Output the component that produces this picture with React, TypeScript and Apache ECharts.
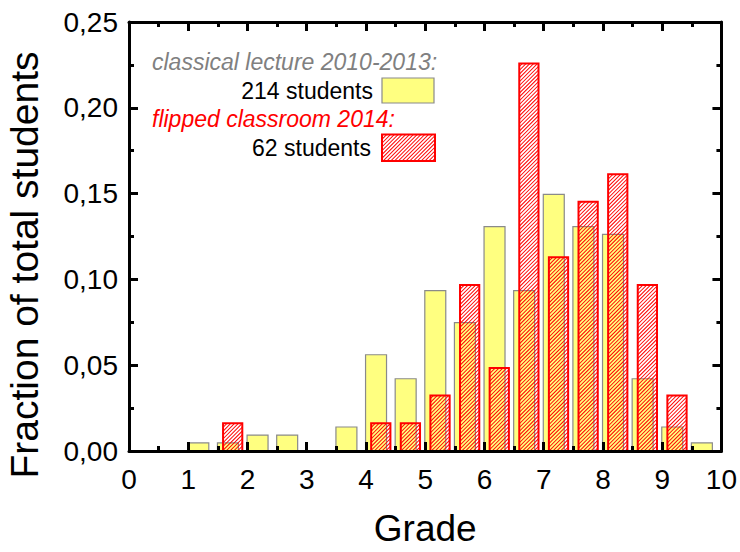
import React, { useEffect, useRef } from 'react';
import * as echarts from 'echarts';

// Bar centres (grade axis) and fraction of students
const classicalX = [1.17, 1.67, 2.17, 2.67, 3.67, 4.17, 4.67, 5.17, 5.67, 6.17, 6.67, 7.17, 7.67, 8.17, 8.67, 9.17, 9.67];
const classicalY = [0.0047, 0.0047, 0.0093, 0.0093, 0.014, 0.0561, 0.0421, 0.0935, 0.0748, 0.1308, 0.0935, 0.1495, 0.1308, 0.1262, 0.0421, 0.014, 0.0047];
const flippedX = [1.75, 4.25, 4.75, 5.25, 5.75, 6.25, 6.75, 7.25, 7.75, 8.25, 8.75, 9.25];
const flippedY = [0.0161, 0.0161, 0.0161, 0.0323, 0.0968, 0.0484, 0.2258, 0.1129, 0.1452, 0.1613, 0.0968, 0.0323];
const legendLabels = ['classical lecture 2010-2013:', '214 students', 'flipped classroom 2014:', '62 students'];
const axisTitles = { x: 'Grade', y: 'Fraction of total students' };

const FONT = '"Liberation Sans", Arial, Helvetica, sans-serif';
const YELLOW = '#ffff80';
const YELLOW_EDGE = '#8a8a8a';
const RED = '#ff0000';
const HATCH_STEP = 3.8;
const HATCH_THICK = 1.35; // in x+y units (about 1px perpendicular)

type Pt = [number, number];

function clipHalf(pts: Pt[], k: number, keepGreater: boolean): Pt[] {
  const out: Pt[] = [];
  const s = keepGreater ? 1 : -1;
  for (let i = 0; i < pts.length; i++) {
    const P = pts[i];
    const Q = pts[(i + 1) % pts.length];
    const fp = (P[0] + P[1] - k) * s;
    const fq = (Q[0] + Q[1] - k) * s;
    if (fp >= 0) out.push(P);
    if ((fp >= 0) !== (fq >= 0)) {
      const t = fp / (fp - fq);
      out.push([P[0] + t * (Q[0] - P[0]), P[1] + t * (Q[1] - P[1])]);
    }
  }
  return out;
}

function hatchStripes(x0: number, y0: number, x1: number, y1: number, step: number) {
  const out: any[] = [];
  const rect: Pt[] = [[x0, y0], [x1, y0], [x1, y1], [x0, y1]];
  const cStart = Math.floor((x0 + y0) / step) * step;
  for (let c = cStart; c <= x1 + y1; c += step) {
    let poly = clipHalf(rect, c, true);
    if (poly.length < 3) continue;
    poly = clipHalf(poly, c + HATCH_THICK, false);
    if (poly.length < 3) continue;
    out.push({
      type: 'polygon',
      silent: true,
      shape: { points: poly },
      style: { fill: RED, stroke: 'none' },
    });
  }
  return out;
}

const axisCommon = {
  axisLine: { show: true, onZero: false, lineStyle: { color: '#000', width: 3 } },
  axisTick: { show: true, inside: true, length: 9, lineStyle: { color: '#000', width: 3 } },
  minorTick: { show: true, splitNumber: 2, length: 5, lineStyle: { color: '#000', width: 3 } },
  splitLine: { show: false },
  minorSplitLine: { show: false },
  z: 5,
};

export default function App() {
  const ref = useRef<HTMLDivElement>(null);
  useEffect(() => {
    document.body.style.margin = '0';
    if (!ref.current) return;
    const chart = echarts.init(ref.current, undefined, { renderer: 'svg' });

    const yellowW = 0.354;
    const redW = 0.325;

    const option: any = {
      animation: false,
      backgroundColor: '#ffffff',
      grid: { left: 129, top: 22, width: 593, height: 436, containLabel: false },
      xAxis: [
        {
          type: 'value', min: 0, max: 10, interval: 1, position: 'bottom',
          ...axisCommon,
          name: axisTitles.x, nameLocation: 'middle', nameGap: 59,
          nameTextStyle: { fontSize: 37, color: '#000', fontFamily: FONT },
          axisLabel: { show: true, fontSize: 28, color: '#000', margin: 14, fontFamily: FONT },
        },
        {
          type: 'value', min: 0, max: 10, interval: 1, position: 'top',
          ...axisCommon,
          axisLabel: { show: false },
        },
      ],
      yAxis: [
        {
          type: 'value', min: 0, max: 0.25, interval: 0.05, position: 'left',
          ...axisCommon,
          axisLabel: {
            show: true, fontSize: 28, color: '#000', margin: 11, fontFamily: FONT,
            formatter: (v: number) => v.toFixed(2).replace('.', ','),
          },
        },
        {
          type: 'value', min: 0, max: 0.25, interval: 0.05, position: 'right',
          ...axisCommon,
          axisLabel: { show: false },
        },
      ],
      series: [
        {
          type: 'custom',
          name: legendLabels[0],
          xAxisIndex: 0, yAxisIndex: 0,
          clip: false,
          z: 2,
          encode: { x: 0, y: 1 },
          data: classicalX.map((x, i) => [x, classicalY[i]]),
          renderItem: (params: any, api: any) => {
            const x = api.value(0);
            const v = api.value(1);
            const p0 = api.coord([x - yellowW / 2, v]);
            const p1 = api.coord([x + yellowW / 2, 0]);
            return {
              type: 'rect',
              shape: { x: p0[0], y: p0[1], width: p1[0] - p0[0], height: p1[1] - p0[1] },
              style: { fill: YELLOW, stroke: YELLOW_EDGE, lineWidth: 1.2 },
            };
          },
        },
        {
          type: 'custom',
          name: legendLabels[2],
          xAxisIndex: 0, yAxisIndex: 0,
          clip: false,
          z: 3,
          encode: { x: 0, y: 1 },
          data: flippedX.map((x, i) => [x, flippedY[i]]),
          renderItem: (params: any, api: any) => {
            const x = api.value(0);
            const v = api.value(1);
            const p0 = api.coord([x - redW / 2, v]);
            const p1 = api.coord([x + redW / 2, 0]);
            const children = hatchStripes(p0[0], p0[1], p1[0], p1[1], HATCH_STEP);
            children.push({
              type: 'rect',
              shape: { x: p0[0], y: p0[1], width: p1[0] - p0[0], height: p1[1] - p0[1] },
              style: { fill: 'none', stroke: RED, lineWidth: 2 },
            });
            return { type: 'group', children };
          },
        },
      ],
      graphic: [
        {
          type: 'text', x: 24, y: 265, rotation: Math.PI / 2,
          style: {
            text: axisTitles.y, fontSize: 39, fontFamily: FONT, fill: '#000',
            align: 'center', verticalAlign: 'middle', textAlign: 'center', textVerticalAlign: 'middle',
          },
        },
        {
          type: 'text', x: 152, y: 62,
          style: {
            text: legendLabels[0], fontSize: 23, fontStyle: 'italic', fontFamily: FONT, fill: '#808080',
            align: 'left', verticalAlign: 'middle', textAlign: 'left', textVerticalAlign: 'middle',
          },
        },
        {
          type: 'text', x: 373, y: 91,
          style: {
            text: legendLabels[1], fontSize: 23, fontFamily: FONT, fill: '#000',
            align: 'right', verticalAlign: 'middle', textAlign: 'right', textVerticalAlign: 'middle',
          },
        },
        {
          type: 'rect', shape: { x: 382, y: 78, width: 52, height: 25 },
          style: { fill: YELLOW, stroke: YELLOW_EDGE, lineWidth: 1.2 },
        },
        {
          type: 'text', x: 152, y: 119,
          style: {
            text: legendLabels[2], fontSize: 23, fontStyle: 'italic', fontFamily: FONT, fill: RED,
            align: 'left', verticalAlign: 'middle', textAlign: 'left', textVerticalAlign: 'middle',
          },
        },
        {
          type: 'text', x: 371, y: 148,
          style: {
            text: legendLabels[3], fontSize: 23, fontFamily: FONT, fill: '#000',
            align: 'right', verticalAlign: 'middle', textAlign: 'right', textVerticalAlign: 'middle',
          },
        },
        {
          type: 'group',
          children: [
            ...hatchStripes(382, 134.5, 435, 161, HATCH_STEP),
            {
              type: 'rect', shape: { x: 382, y: 134.5, width: 53, height: 26.5 },
              style: { fill: 'none', stroke: RED, lineWidth: 2 },
            },
          ],
        },
      ],
    };
    chart.setOption(option);
    return () => chart.dispose();
  }, []);
  return <div ref={ref} style={{ width: 740, height: 552 }} />;
}
